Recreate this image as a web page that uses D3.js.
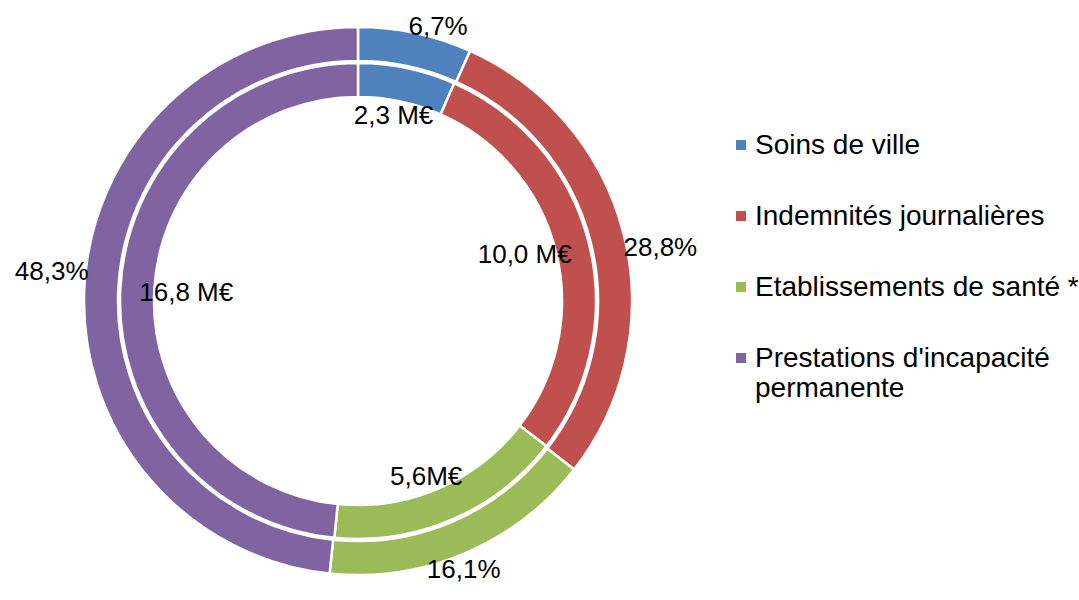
<!DOCTYPE html>
<html>
<head>
<meta charset="utf-8">
<script src="https://cdn.jsdelivr.net/npm/d3@7"></script>
<style>
  body { margin: 0; background: #fff; }
  svg { display: block; font-family: "Liberation Sans", Arial, sans-serif; }
</style>
</head>
<body>
<svg width="1079" height="600"></svg>
<script>
// categories and values
const categories = [
  "Soins de ville",
  "Indemnités journalières",
  "Etablissements de santé *",
  "Prestations d'incapacité permanente",
];
const outerShares = [6.7, 28.8, 16.1, 48.3]; // %
const innerAmounts = [2.3, 10.0, 5.6, 16.8]; // M€
const innerLabels = ["2,3 M€", "10,0 M€", "5,6M€", "16,8 M€"];
const legendLines = [
  ["Soins de ville"],
  ["Indemnités journalières"],
  ["Etablissements de santé *"],
  ["Prestations d'incapacité", "permanente"],
];
const colors = ["#4F81BD", "#C0504D", "#9BBB59", "#8064A2"];

const svg = d3.select("svg");
const cx = 358,
  cy = 301;
const labelSize = 26;
const legendSize = 28;

const chart = svg.append("g").attr("transform", `translate(${cx},${cy})`);

const pie = d3.pie().sort(null).value((d) => d);

const outerArc = d3.arc().innerRadius(240).outerRadius(274);
const innerArc = d3.arc().innerRadius(204).outerRadius(238);

const outerData = pie(outerShares);
const innerData = pie(innerAmounts);

function drawRing(data, arc) {
  chart
    .append("g")
    .selectAll("path")
    .data(data)
    .enter()
    .append("path")
    .attr("d", arc)
    .attr("fill", (d, i) => colors[i])
    .attr("stroke", "#fff")
    .attr("stroke-width", 2.5);
}

drawRing(outerData, outerArc);
drawRing(innerData, innerArc);

// white separation between rings
chart
  .append("circle")
  .attr("r", 239)
  .attr("fill", "none")
  .attr("stroke", "#fff")
  .attr("stroke-width", 2.5);

const fmt = (v) => v.toFixed(1).replace(".", ",");

function midAngle(d) {
  return (d.startAngle + d.endAngle) / 2;
}

// labels sit on an ellipse around the centre
function addLabels(data, rx, ry, shift, textFn) {
  chart
    .append("g")
    .selectAll("text")
    .data(data)
    .enter()
    .append("text")
    .attr("x", (d) => Math.sin(midAngle(d) + shift) * rx)
    .attr("y", (d) => -Math.cos(midAngle(d) + shift) * ry)
    .attr("dy", "0.35em")
    .attr("text-anchor", "middle")
    .attr("font-size", labelSize)
    .attr("fill", "#000")
    .text(textFn);
}

addLabels(outerData, 308, 285, (3 * Math.PI) / 180, (d) => fmt(d.data) + "%");
addLabels(innerData, 172, 190, 0, (d, i) => innerLabels[i]);

// legend
const legendY = d3
  .scalePoint()
  .domain(categories)
  .range([144, 357]);

const legend = svg
  .append("g")
  .selectAll("g")
  .data(categories)
  .enter()
  .append("g")
  .attr("transform", (d) => `translate(736,${legendY(d)})`);

legend
  .append("rect")
  .attr("x", 0)
  .attr("y", -4)
  .attr("width", 10)
  .attr("height", 10)
  .attr("fill", (d, i) => colors[i]);

legend
  .append("text")
  .attr("font-size", legendSize)
  .attr("fill", "#000")
  .selectAll("tspan")
  .data((d, i) => legendLines[i])
  .enter()
  .append("tspan")
  .attr("x", 19)
  .attr("y", (d, j) => j * 30)
  .attr("dy", "0.35em")
  .text((d) => d);
</script>
</body>
</html>
